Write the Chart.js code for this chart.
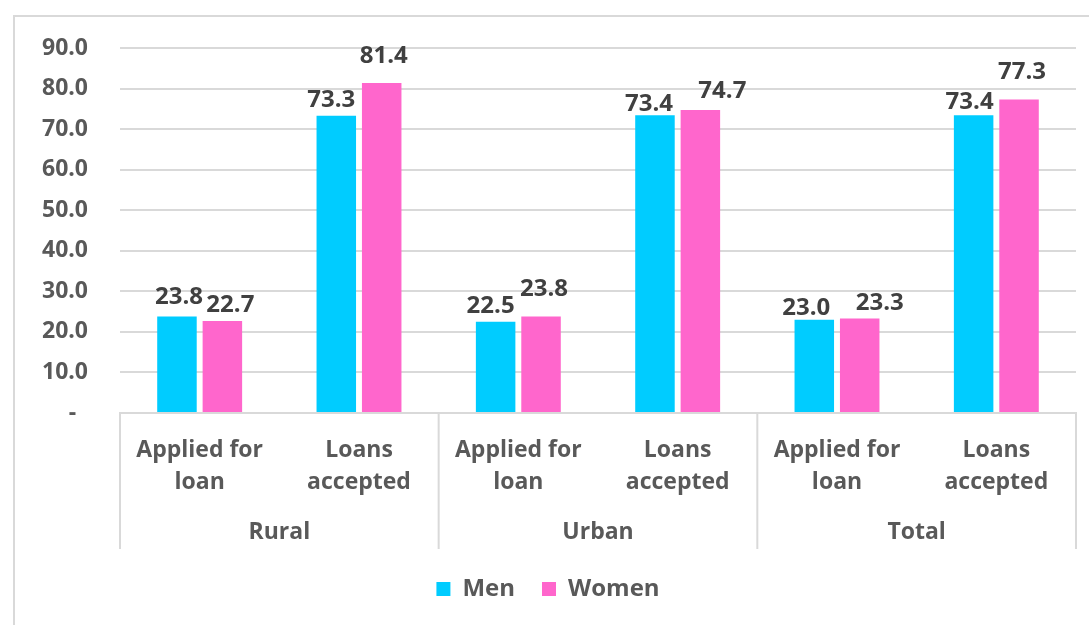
<!DOCTYPE html>
<html>
<head>
<meta charset="utf-8">
<script src="https://cdn.jsdelivr.net/npm/chart.js@4.4.1/dist/chart.umd.min.js"></script>
<style>
    html, body { margin: 0; padding: 0; background: #fff; overflow: hidden; }
    #wrap { position: relative; width: 1089px; height: 625px; }
</style>
</head>
<body>
<div id="wrap"><canvas id="loanChart"></canvas></div>
<script>
// Chart data
var groups = ['Rural', 'Urban', 'Total'];
var subCategories = [['Applied for', 'loan'], ['Loans', 'accepted']];
var menValues = [23.8, 73.3, 22.5, 73.4, 23.0, 73.4];
var womenValues = [22.7, 81.4, 23.8, 74.7, 23.3, 77.3];
var yMax = 90;
var yStep = 10;

// hand-placed label nudges from the original (dx, gap above bar), in px
var menLabelNudge = [[2, 12], [-5, 9], [-5, 9], [-6, 4], [-8, 5], [-4, 6]];
var womenLabelNudge = [[8, 9], [2, 20], [3, 20], [22, 12], [20, 9], [3, 21]];

var labels = [];
groups.forEach(function() {
    subCategories.forEach(function(sub) { labels.push(sub); });
});

var textColor = '#595959';
var lineColor = '#d9d9d9';
var fontFamily = "'Open Sans', sans-serif";
var groupAxisHeight = 136;

Chart.defaults.font.family = fontFamily;

// frame, group separators, group names and value labels
var groupPlugin = {
    id: 'groupAxis',
    beforeDraw: function(chart) {
        var ctx = chart.ctx;
        ctx.save();
        ctx.fillStyle = '#fff';
        ctx.fillRect(0, 0, chart.width, chart.height);
        ctx.strokeStyle = lineColor;
        ctx.lineWidth = 2;
        ctx.strokeRect(14, 16, chart.width + 20, chart.height + 20);
        ctx.restore();
    },
    afterDraw: function(chart) {
        var ctx = chart.ctx;
        var area = chart.chartArea;
        var xs = chart.scales.x;
        var per = subCategories.length;
        ctx.save();
        ctx.strokeStyle = lineColor;
        ctx.lineWidth = 2;
        for (var i = 0; i <= groups.length; i++) {
            var x;
            if (i === 0) x = area.left;
            else if (i === groups.length) x = area.right;
            else x = (xs.getPixelForValue(i * per - 1) + xs.getPixelForValue(i * per)) / 2;
            ctx.beginPath();
            ctx.moveTo(x, area.bottom);
            ctx.lineTo(x, area.bottom + groupAxisHeight);
            ctx.stroke();
        }
        ctx.fillStyle = textColor;
        ctx.font = 'bold 23px ' + fontFamily;
        ctx.textAlign = 'center';
        ctx.textBaseline = 'middle';
        groups.forEach(function(g, gi) {
            var cx = (xs.getPixelForValue(gi * per) + xs.getPixelForValue(gi * per + per - 1)) / 2;
            ctx.fillText(g, cx, area.bottom + 119);
        });
        ctx.restore();
    },
    afterDatasetsDraw: function(chart) {
        var ctx = chart.ctx;
        ctx.save();
        ctx.fillStyle = '#404040';
        ctx.font = 'bold 24px ' + fontFamily;
        ctx.textAlign = 'center';
        ctx.textBaseline = 'alphabetic';
        var nudges = [menLabelNudge, womenLabelNudge];
        chart.data.datasets.forEach(function(ds, di) {
            chart.getDatasetMeta(di).data.forEach(function(bar, i) {
                var n = nudges[di][i];
                ctx.fillText(ds.data[i].toFixed(1), bar.x + n[0], bar.y - n[1]);
            });
        });
        ctx.restore();
    }
};

var ctx = document.getElementById('loanChart').getContext('2d');
var loanChart = new Chart(ctx, {
    type: 'bar',
    data: {
        labels: labels,
        datasets: [{
            label: 'Men',
            data: menValues,
            backgroundColor: '#00ccff',
            categoryPercentage: 0.57,
            barPercentage: 0.87
        }, {
            label: 'Women',
            data: womenValues,
            backgroundColor: '#ff66cc',
            categoryPercentage: 0.57,
            barPercentage: 0.87
        }]
    },
    options: {
        responsive: true,
        maintainAspectRatio: false,
        animation: false,
        layout: {
            padding: { top: 48, right: 13, bottom: 14, left: 20 }
        },
        plugins: {
            legend: {
                position: 'bottom',
                labels: {
                    boxWidth: 14,
                    boxHeight: 14,
                    padding: 27,
                    color: textColor,
                    font: { size: 24, weight: 'bold' }
                }
            },
            tooltip: { enabled: false }
        },
        scales: {
            x: {
                grid: { display: false },
                border: { display: true, color: lineColor, width: 2 },
                ticks: {
                    color: textColor,
                    padding: 13,
                    maxRotation: 0,
                    autoSkip: false,
                    font: { size: 23, weight: 'bold', lineHeight: 1.4 }
                },
                afterFit: function(scale) {
                    scale.height = 137;
                }
            },
            y: {
                min: 0,
                max: yMax,
                grid: { color: lineColor, lineWidth: 2, drawTicks: false },
                border: { display: false },
                ticks: {
                    stepSize: yStep,
                    color: textColor,
                    padding: 32,
                    font: { size: 23, weight: 'bold' },
                    callback: function(value) {
                        return value === 0 ? '-  ' : value.toFixed(1);
                    }
                },
                afterFit: function(scale) {
                    scale.width = 100;
                }
            }
        }
    },
    plugins: [groupPlugin]
});
</script>
</body>
</html>
